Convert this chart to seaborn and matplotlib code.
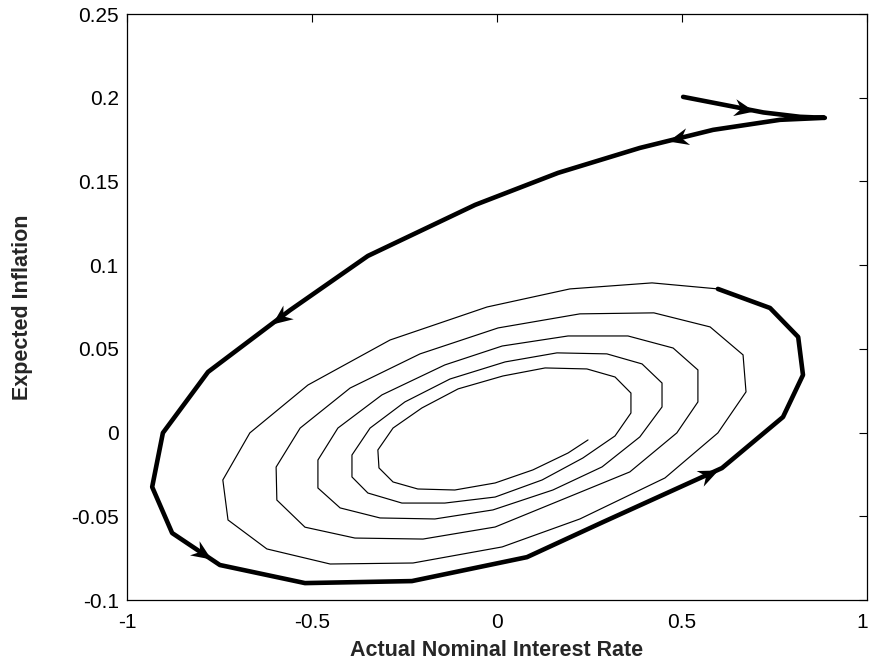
import numpy as np
import pandas as pd
import matplotlib
matplotlib.use("Agg")
import matplotlib.pyplot as plt
import seaborn as sns
from matplotlib.path import Path
from matplotlib.markers import MarkerStyle
from matplotlib.transforms import Affine2D, ScaledTranslation

# ---- data: initial (thick) transient path ----
thick_x = [0.503, 0.720, 0.819, 0.886, 0.765, 0.584, 0.386, 0.165, -0.059, -0.349,
           -0.560, -0.781, -0.903, -0.932, -0.878, -0.749, -0.519, -0.230, 0.081, 0.286,
           0.608, 0.773, 0.827, 0.814, 0.738, 0.597]
thick_y = [0.2005, 0.1912, 0.1886, 0.1880, 0.1868, 0.1808, 0.1700, 0.1551, 0.1360, 0.1055,
           0.0730, 0.0362, -0.0002, -0.0325, -0.0600, -0.0791, -0.0899, -0.0887, -0.0744, -0.0535,
           -0.0212, 0.0093, 0.0344, 0.0571, 0.0744, 0.0858]

# ---- data: converging (thin) spiral ----
thin_x = [0.597, 0.419, 0.197, -0.027, -0.289, -0.511, -0.668, -0.741, -0.727, -0.622,
          -0.451, -0.227, 0.014, 0.224, 0.454, 0.597, 0.673, 0.665, 0.576, 0.424,
          0.224, 0.003, -0.208, -0.397, -0.532, -0.597, -0.595, -0.519, -0.384, -0.200,
          -0.005, 0.359, 0.486, 0.543, 0.543, 0.476, 0.354, 0.192, 0.014, -0.141,
          -0.311, -0.430, -0.484, -0.484, -0.424, -0.316, -0.168, -0.011, 0.151, 0.284,
          0.386, 0.446, 0.446, 0.392, 0.297, 0.162, 0.022, -0.127, -0.249, -0.343,
          -0.392, -0.392, -0.349, -0.257, -0.141, -0.005, 0.122, 0.232, 0.319, 0.362,
          0.362, 0.319, 0.243, 0.130, 0.016, -0.105, -0.203, -0.281, -0.322, -0.319,
          -0.281, -0.214, -0.114, -0.005, 0.097, 0.192, 0.246]
thin_y = [0.0858, 0.0894, 0.0858, 0.0750, 0.0553, 0.0284, -0.0002, -0.0283, -0.0522, -0.0695,
          -0.0785, -0.0779, -0.0683, -0.0516, -0.0271, -0.0002, 0.0243, 0.0464, 0.0631, 0.0715,
          0.0709, 0.0625, 0.0470, 0.0266, 0.0027, -0.0206, -0.0403, -0.0565, -0.0630, -0.0636,
          -0.0564, -0.0235, -0.0002, 0.0183, 0.0374, 0.0505, 0.0577, 0.0577, 0.0517, 0.0404,
          0.0225, 0.0027, -0.0164, -0.0331, -0.0450, -0.0510, -0.0516, -0.0462, -0.0343, -0.0205,
          -0.0026, 0.0153, 0.0296, 0.0410, 0.0470, 0.0476, 0.0422, 0.0320, 0.0183, 0.0027,
          -0.0134, -0.0265, -0.0361, -0.0421, -0.0421, -0.0385, -0.0283, -0.0152, -0.0020, 0.0117,
          0.0236, 0.0332, 0.0380, 0.0386, 0.0338, 0.0261, 0.0147, 0.0027, -0.0104, -0.0211,
          -0.0295, -0.0337, -0.0343, -0.0301, -0.0223, -0.0122, -0.0044]

# ---- arrows on the thick path: segment index and fraction along it ----
arrow_seg = [0, 5, 10, 14, 19]
arrow_frac = [0.88, 0.62, 0.22, 0.82, 0.97]

x_ticks = [-1, -0.5, 0, 0.5, 1]
x_tick_labels = ["-1", "-0.5", "0", "0.5", "1"]
y_ticks = [-0.1, -0.05, 0, 0.05, 0.1, 0.15, 0.2, 0.25]
y_tick_labels = ["-0.1", "-0.05", "0", "0.05", "0.1", "0.15", "0.2", "0.25"]
x_label = "Actual Nominal Interest Rate"
y_label = "Expected Inflation"

sns.set_theme(style="white")
plt.rcParams['font.family'] = ['Liberation Sans', 'DejaVu Sans']

fig = plt.figure(figsize=(8.7, 6.6), dpi=100)
ax = fig.add_axes([127 / 870, 60 / 660, 740 / 870, 586 / 660])

thick_df = pd.DataFrame({"x": thick_x, "y": thick_y})
thin_df = pd.DataFrame({"x": thin_x, "y": thin_y})

sns.lineplot(data=thin_df, x="x", y="y", sort=False, estimator=None, ax=ax,
             color="black", linewidth=0.85, solid_joinstyle="miter")
sns.lineplot(data=thick_df, x="x", y="y", sort=False, estimator=None, ax=ax,
             color="black", linewidth=3.3, solid_capstyle="round", solid_joinstyle="round")

ax.set_xlim(-1, 1)
ax.set_ylim(-0.1, 0.25)
ax.set_xticks(x_ticks)
ax.set_xticklabels(x_tick_labels)
ax.set_yticks(y_ticks)
ax.set_yticklabels(y_tick_labels)

for s in ax.spines.values():
    s.set_visible(True)
    s.set_color("black")
    s.set_linewidth(0.9)

ax.tick_params(axis="both", direction="in", length=5.5, width=0.8, colors="black",
               top=True, right=True, labelsize=15)
ax.tick_params(axis="x", pad=9)
ax.tick_params(axis="y", pad=6)

# keep the last x tick label ("1") fully inside the figure
last = ax.get_xticklabels()[-1]
last.set_transform(last.get_transform() + ScaledTranslation(-5 / 100, 0, fig.dpi_scale_trans))

ax.set_xlabel(x_label, fontsize=15.5, fontweight="bold", labelpad=6)
ax.set_ylabel(y_label, fontsize=15.5, fontweight="bold", labelpad=27)

# stealth arrow heads along the thick path
stealth = Path([(0, 0), (-2, 0.85), (-1.35, 0), (-2, -0.85), (0, 0)], closed=True)
tx = np.asarray(thick_x)
ty = np.asarray(thick_y)
for seg, frac in zip(arrow_seg, arrow_frac):
    x0, y0 = tx[seg], ty[seg]
    x1, y1 = tx[seg + 1], ty[seg + 1]
    px = x0 + frac * (x1 - x0)
    py = y0 + frac * (y1 - y0)
    d = ax.transData.transform([(x0, y0), (x1, y1)])
    ang = np.degrees(np.arctan2(d[1, 1] - d[0, 1], d[1, 0] - d[0, 0]))
    ms = MarkerStyle(stealth, transform=Affine2D().rotate_deg(ang))
    ax.plot([px], [py], marker=ms, markersize=29, color="black",
            markeredgewidth=0, linestyle="none")

fig.savefig("out.png", dpi=100)
